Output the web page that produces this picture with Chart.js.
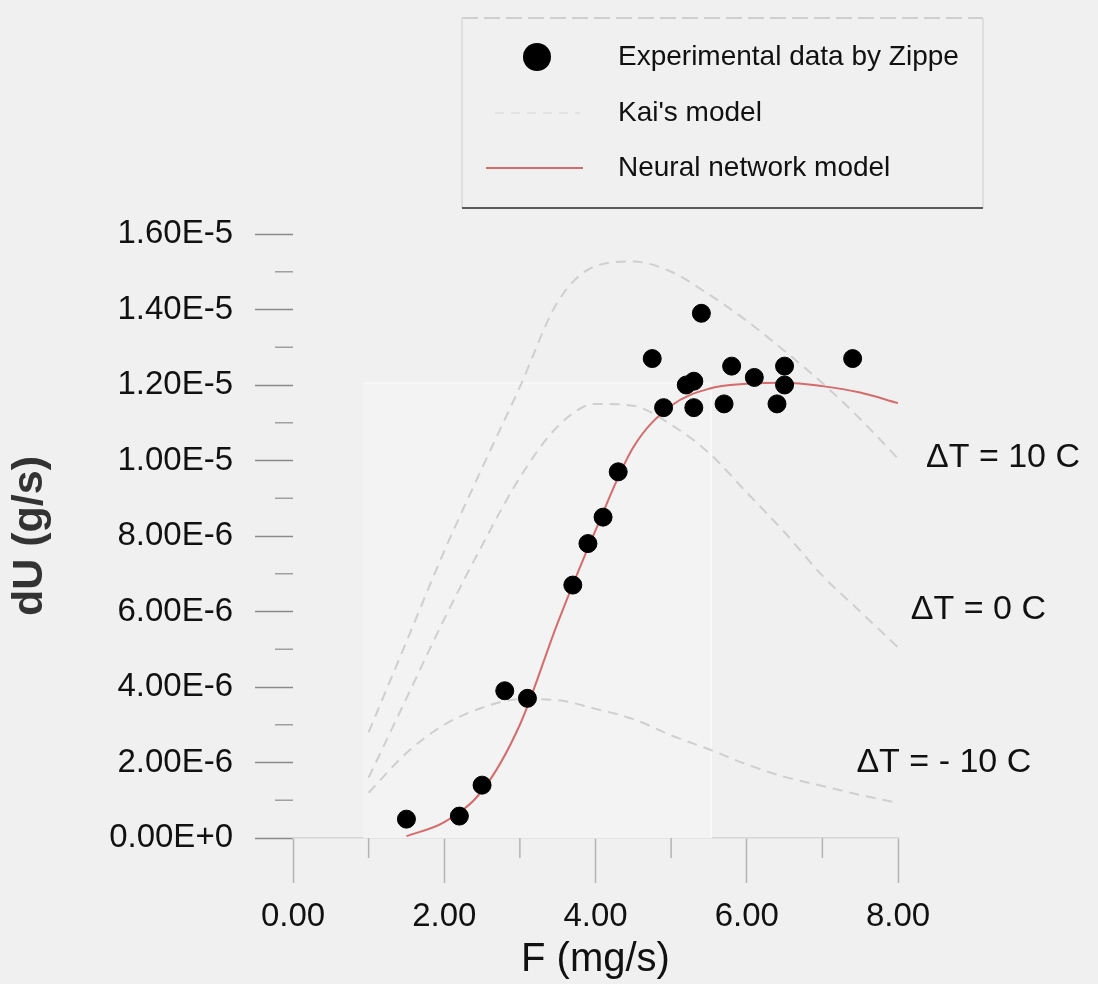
<!DOCTYPE html>
<html>
<head>
<meta charset="utf-8">
<title>dU vs F</title>
<script src="https://cdn.jsdelivr.net/npm/chart.js@4.4.1/dist/chart.umd.min.js"></script>
<style>
  html, body { margin: 0; padding: 0; background: #f0f0f0; }
  #wrap { position: relative; width: 1098px; height: 984px; }
</style>
</head>
<body>
<div id="wrap"><canvas id="chart"></canvas></div>
<script>
// experimental data by Zippe: F (mg/s), dU (1E-6 g/s)
const expF = [1.5, 2.2, 2.5, 2.8, 3.1, 3.7, 3.9, 4.1, 4.3, 4.75, 4.9, 5.2, 5.3, 5.3, 5.4, 5.7, 5.8, 6.1, 6.4, 6.5, 6.5, 7.4];
const expU = [0.5, 0.58, 1.4, 3.9, 3.7, 6.7, 7.8, 8.5, 9.7, 12.7, 11.4, 12.0, 12.1, 11.4, 13.9, 11.5, 12.5, 12.2, 11.5, 12.5, 12.0, 12.7];

// neural network model
const nnF = [1.5, 2, 2.5, 3, 3.5, 4, 4.5, 5, 5.5, 6, 6.5, 7, 7.5, 8];
const nnU = [0.05, 0.42, 1.25, 3.0, 5.7, 8.15, 10.35, 11.45, 11.9, 12.03, 12.06, 11.97, 11.8, 11.52];

// Kai's model, one curve per temperature difference
const kaiF = [1, 1.5, 2, 2.5, 3, 3.5, 4, 4.5, 5, 5.5, 6, 6.5, 7, 7.5, 8];
const kaiHot = [2.8, 5.2, 7.6, 9.8, 11.95, 14.2, 15.15, 15.27, 15.0, 14.4, 13.7, 12.9, 12.05, 11.1, 10.05];
const kaiZero = [1.6, 3.7, 5.8, 7.75, 9.55, 10.9, 11.5, 11.45, 10.95, 10.2, 9.15, 8.1, 6.95, 6.0, 5.05];
const kaiCold = [1.2, 2.25, 3.0, 3.45, 3.68, 3.65, 3.42, 3.15, 2.72, 2.35, 1.95, 1.62, 1.38, 1.14, 0.93];
const curveNames = ['\u0394T = 10 C', '\u0394T = 0 C', '\u0394T = - 10 C'];

const legendNames = ['Experimental data by Zippe', "Kai's model", 'Neural network model'];

const FONT = '"Liberation Sans", Arial, Helvetica, sans-serif';
const RED = '#d66b6b';
const DASH = '#cfcfcf';

const pts = (xs, ys) => xs.map((x, i) => ({ x: x, y: ys[i] }));

// where the delta-T notes sit, in data units
const notePos = [[8.37, 10.07], [8.17, 6.04], [7.45, 1.99]];

const extras = {
  id: 'extras',
  beforeDatasetsDraw(chart) {
    // the faint lighter frame left over in the scan
    const { ctx, scales: { x, y } } = chart;
    const l = x.getPixelForValue(0.93), r = x.getPixelForValue(5.53);
    const t = y.getPixelForValue(12.05), b = y.getPixelForValue(0);
    ctx.save();
    ctx.fillStyle = '#f3f3f3';
    ctx.fillRect(l, t, r - l, b - t);
    ctx.strokeStyle = '#f9f9f9';
    ctx.lineWidth = 1.5;
    ctx.beginPath();
    ctx.moveTo(l, t); ctx.lineTo(r, t); ctx.lineTo(r, b);
    ctx.stroke();
    ctx.restore();
  },
  afterDraw(chart) {
    const { ctx, scales: { x, y } } = chart;
    ctx.save();
    // minor ticks
    ctx.lineWidth = 1.5;
    ctx.strokeStyle = '#a0a0a0';
    for (let v = 1; v < 16; v += 2) {
      const py = y.getPixelForValue(v);
      ctx.beginPath(); ctx.moveTo(x.left - 18, py); ctx.lineTo(x.left, py); ctx.stroke();
    }
    ctx.strokeStyle = '#b4b4b4';
    for (let v = 1; v < 8; v += 2) {
      const px = x.getPixelForValue(v);
      ctx.beginPath(); ctx.moveTo(px, y.bottom); ctx.lineTo(px, y.bottom + 20); ctx.stroke();
    }

    // delta T notes
    ctx.fillStyle = '#111';
    ctx.font = '34px ' + FONT;
    ctx.textAlign = 'left';
    ctx.textBaseline = 'middle';
    curveNames.forEach((s, i) => {
      ctx.fillText(s, x.getPixelForValue(notePos[i][0]), y.getPixelForValue(notePos[i][1]));
    });

    // legend box
    ctx.lineWidth = 1.5;
    ctx.strokeStyle = '#c4c4c4';
    ctx.setLineDash([16, 6]);
    ctx.beginPath(); ctx.moveTo(462, 18); ctx.lineTo(983, 18); ctx.stroke();
    ctx.setLineDash([]);
    ctx.strokeStyle = '#dadada';
    ctx.beginPath(); ctx.moveTo(462, 18); ctx.lineTo(462, 208); ctx.stroke();
    ctx.beginPath(); ctx.moveTo(983, 18); ctx.lineTo(983, 208); ctx.stroke();
    ctx.strokeStyle = '#5a5a5a';
    ctx.lineWidth = 2;
    ctx.beginPath(); ctx.moveTo(462, 208); ctx.lineTo(983, 208); ctx.stroke();

    ctx.fillStyle = '#000';
    ctx.beginPath(); ctx.arc(537, 57, 14, 0, Math.PI * 2); ctx.fill();
    ctx.strokeStyle = '#e2e2e2';
    ctx.setLineDash([9, 7]);
    ctx.beginPath(); ctx.moveTo(495, 113); ctx.lineTo(580, 113); ctx.stroke();
    ctx.setLineDash([]);
    ctx.strokeStyle = RED;
    ctx.beginPath(); ctx.moveTo(486, 168); ctx.lineTo(583, 168); ctx.stroke();

    ctx.fillStyle = '#111';
    ctx.font = '28px ' + FONT;
    [57, 113, 168].forEach((py, i) => ctx.fillText(legendNames[i], 618, py));
    ctx.restore();
  }
};

new Chart(document.getElementById('chart'), {
  type: 'scatter',
  data: {
    datasets: [
      {
        label: legendNames[0],
        data: pts(expF, expU),
        backgroundColor: '#000',
        borderColor: '#000',
        pointRadius: 9,
        showLine: false
      },
      {
        label: legendNames[2],
        data: pts(nnF, nnU),
        showLine: true,
        borderColor: RED,
        borderWidth: 2,
        pointRadius: 0,
        cubicInterpolationMode: 'monotone'
      },
      {
        label: curveNames[0],
        data: pts(kaiF, kaiHot),
        showLine: true,
        borderColor: DASH,
        borderWidth: 2,
        borderDash: [10, 7],
        pointRadius: 0,
        cubicInterpolationMode: 'monotone'
      },
      {
        label: curveNames[1],
        data: pts(kaiF, kaiZero),
        showLine: true,
        borderColor: DASH,
        borderWidth: 2,
        borderDash: [10, 7],
        pointRadius: 0,
        cubicInterpolationMode: 'monotone'
      },
      {
        label: curveNames[2],
        data: pts(kaiF, kaiCold),
        showLine: true,
        borderColor: DASH,
        borderWidth: 2,
        borderDash: [10, 7],
        pointRadius: 0,
        cubicInterpolationMode: 'monotone'
      }
    ]
  },
  options: {
    responsive: true,
    maintainAspectRatio: false,
    animation: false,
    layout: { padding: { left: 0, right: 200, top: 234, bottom: 0 } },
    plugins: { legend: { display: false }, tooltip: { enabled: false } },
    scales: {
      x: {
        type: 'linear',
        min: 0,
        max: 8,
        afterFit(s) { s.height = 146; },
        border: { display: true, color: '#d6d6d6', width: 1.5 },
        grid: { drawOnChartArea: false, tickLength: 45, tickColor: '#b4b4b4', tickWidth: 1.5 },
        ticks: {
          stepSize: 2,
          padding: 14,
          color: '#111',
          font: { family: FONT, size: 33 },
          callback: v => v.toFixed(2)
        },
        title: {
          display: true,
          text: 'F (mg/s)',
          color: '#111',
          font: { family: FONT, size: 40 },
          padding: { top: 0, bottom: 0 }
        }
      },
      y: {
        min: 0,
        max: 16,
        afterFit(s) { s.width = 293; },
        border: { display: false },
        grid: { drawOnChartArea: false, tickLength: 38, tickColor: '#8a8a8a', tickWidth: 1.5 },
        ticks: {
          stepSize: 2,
          padding: 22,
          color: '#111',
          font: { family: FONT, size: 33 },
          callback: v => (v * 1e-6).toExponential(2).replace('e', 'E')
        },
        title: {
          display: true,
          text: 'dU (g/s)',
          color: '#333',
          font: { family: FONT, size: 43, weight: 'bold' },
          padding: { top: 4, bottom: 0 }
        }
      }
    }
  },
  plugins: [extras]
});
</script>
</body>
</html>
